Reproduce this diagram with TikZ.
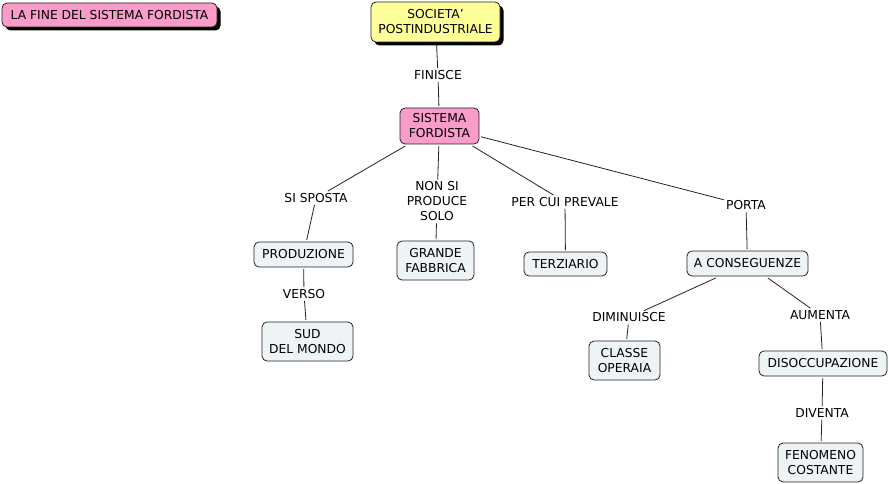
\documentclass[tikz,border=0pt]{standalone}
\usepackage{fontspec}
\setmainfont{DejaVu Sans}
\usetikzlibrary{shadows}
\definecolor{pinkbox}{HTML}{F99CC9}
\definecolor{yellowbox}{HTML}{FFFF99}
\definecolor{boxfill}{HTML}{EEF3F6}
\definecolor{linecol}{HTML}{222222}
\begin{document}
\begin{tikzpicture}[x=1pt,y=-1pt,
  every node/.style={font=\fontsize{12.3}{15}\selectfont, text=black},
  box/.style={draw=linecol, line width=0.8pt, rounded corners=5pt, fill=boxfill, align=center, inner xsep=7pt, inner ysep=3pt, outer sep=2pt},
  one/.style={minimum height=25pt},
  two/.style={minimum height=39pt},
  shad/.style={drop shadow={shadow xshift=3.5pt, shadow yshift=-3.5pt, opacity=1, fill=black}},
  lbl/.style={fill=white, align=center, inner sep=2pt},
  conn/.style={draw=linecol, line width=0.8pt}]
\useasboundingbox (0,0) rectangle (889,484);
% nodes
\node[box, one, shad, fill=pinkbox, minimum width=215pt, minimum height=24pt] (title) at (109.5,15) {LA FINE DEL SISTEMA FORDISTA};
\node[box, two, shad, fill=yellowbox, minimum width=129pt, minimum height=40pt] (soc) at (435.5,22) {SOCIETA\symbol{39}\\POSTINDUSTRIALE};
\node[box, two, fill=pinkbox, minimum width=79pt, minimum height=36pt] (sf) at (439.5,126) {SISTEMA\\FORDISTA};
\node[box, one, minimum width=99pt] (prod) at (303.5,254.5) {PRODUZIONE};
\node[box, two, minimum width=91pt] (sud) at (307.5,341.5) {SUD\\DEL MONDO};
\node[box, two, minimum width=77pt] (gf) at (435.5,260.5) {GRANDE\\FABBRICA};
\node[box, one, minimum width=83pt, minimum height=24pt] (ter) at (565.5,264) {TERZIARIO};
\node[box, one, minimum width=121pt] (ac) at (747.5,263.5) {A CONSEGUENZE};
\node[box, two, minimum width=71pt] (co) at (624.5,360.5) {CLASSE\\OPERAIA};
\node[box, one, minimum width=128pt] (dis) at (823,363.5) {DISOCCUPAZIONE};
\node[box, two, minimum width=83pt] (fc) at (820.5,462.5) {FENOMENO\\COSTANTE};
% labels
\node[lbl] (lfin) at (438,75) {FINISCE};
\node[lbl] (lsps) at (316,198) {SI SPOSTA};
\node[lbl] (lver) at (304,294) {VERSO};
\node[lbl] (lnon) at (437,201.5) {NON SI\\PRODUCE\\SOLO};
\node[lbl] (lper) at (565,202) {PER CUI PREVALE};
\node[lbl] (lpor) at (746,205.5) {PORTA};
\node[lbl] (ldim) at (629,317.5) {DIMINUISCE};
\node[lbl] (laum) at (820,315) {AUMENTA};
\node[lbl] (ldiv) at (822,413) {DIVENTA};
% connectors
\draw[conn] (soc) -- (lfin);
\draw[conn] (lfin) -- (sf);
\draw[conn] (sf) -- (lsps);
\draw[conn] (lsps) -- (prod);
\draw[conn] (prod) -- (lver);
\draw[conn] (lver) -- (sud);
\draw[conn] (sf) -- (lnon);
\draw[conn] (lnon) -- (gf);
\draw[conn] (sf) -- (lper);
\draw[conn] (lper) -- (ter);
\draw[conn] (sf) -- (lpor);
\draw[conn] (lpor) -- (ac);
\draw[conn] (ac) -- (ldim);
\draw[conn] (ldim) -- (co);
\draw[conn] (ac) -- (laum);
\draw[conn] (laum) -- (dis);
\draw[conn] (dis) -- (ldiv);
\draw[conn] (ldiv) -- (fc);
\end{tikzpicture}
\end{document}
